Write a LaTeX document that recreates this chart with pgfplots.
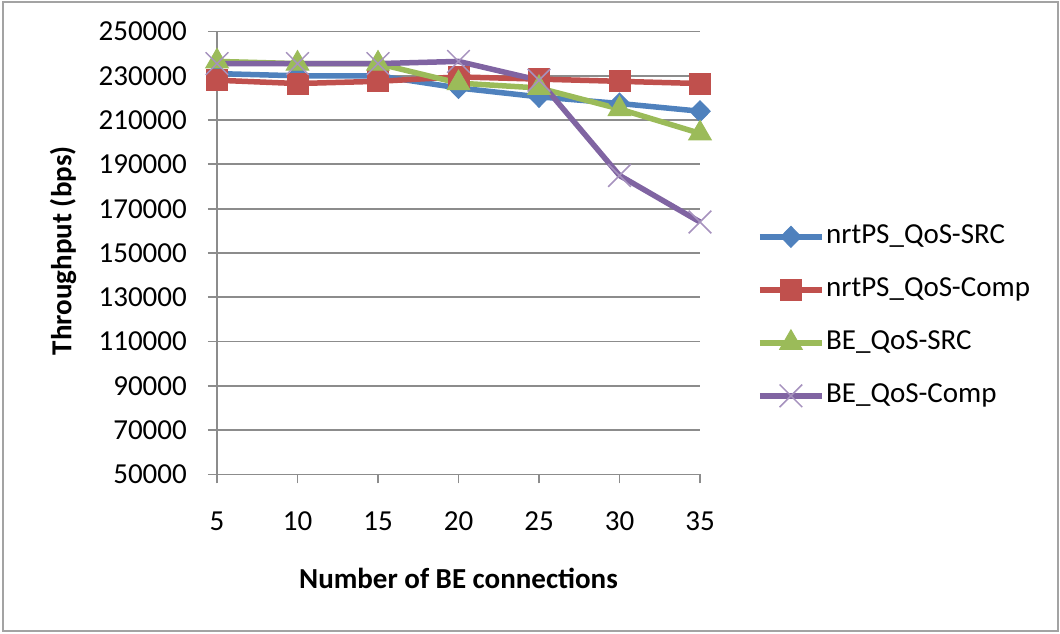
\documentclass[border=0pt]{standalone}
\usepackage{fontspec}
\setmainfont{Carlito}
\usepackage{pgfplots}
\pgfplotsset{compat=1.18}
\definecolor{cblue}{HTML}{4F81BD}
\definecolor{cred}{HTML}{C0504D}
\definecolor{cgreen}{HTML}{9BBB59}
\definecolor{cpurple}{HTML}{8064A2}
\definecolor{cgrid}{HTML}{8C8C8C}
\begin{document}
\begin{tikzpicture}
\path[use as bounding box] (0pt,0pt) rectangle (1060pt,634pt);
\draw[color=cgrid!80, line width=2pt] (3pt,3pt) rectangle (1058pt,632pt);
\begin{axis}[
  at={(217pt,159.5pt)}, anchor=south west,
  scale only axis, width=483pt, height=443pt,
  xmin=5, xmax=35, ymin=50000, ymax=250000,
  xtick={5,10,15,20,25,30,35},
  ytick={50000,70000,...,250000},
  scaled y ticks=false,
  /pgf/number format/assume math mode=true,
  /pgf/number format/1000 sep={},
  /pgf/number format/fixed,
  font=\fontsize{29}{34}\selectfont,
  axis x line=bottom, axis y line=left,
  axis line style={cgrid, line width=1.8pt, -},
  tick align=outside,
  major tick length=9pt,
  tick style={cgrid, line width=1.8pt},
  ymajorgrids, grid style={cgrid, line width=1.8pt},
  xticklabel style={anchor=center, inner sep=0pt, yshift=-38pt},
  yticklabel style={anchor=east, inner sep=0pt, xshift=-21pt},
  xlabel={\bfseries Number of BE connections},
  ylabel={\bfseries Throughput (bps)},
  xlabel style={at={(axis description cs:0.5,0)}, anchor=center, yshift=-103.5pt},
  ylabel style={at={(axis description cs:-0.3188,0.505)}, anchor=center, rotate=0},
  legend cell align=left,
  legend image code/.code={\draw[mark repeat=2,mark phase=2,#1] plot coordinates {(0pt,0pt) (31pt,0pt) (62pt,0pt)};},
  legend style={at={(axis description cs:1.118,0.357)}, anchor=west, draw=none, fill=none,
    inner sep=0pt, row sep=24pt,
    nodes={inner sep=1.5pt, text height=20pt, text depth=6pt},
    font=\fontsize{29}{34}\selectfont},
  every axis plot/.append style={line width=5.5pt},
  clip=false,
]
\addplot[color=cblue, mark=diamond*, mark size=10.5pt, mark options={xscale=1.3, line width=1pt}]
 coordinates {(5,231000) (10,230000) (15,230000) (20,224500) (25,220500) (30,217500) (35,214000)};
\addlegendentry{nrtPS\_QoS-SRC}
\addplot[color=cred, mark=square*, mark size=10.5pt, mark options={line width=1pt}]
 coordinates {(5,228000) (10,226500) (15,227500) (20,229500) (25,228500) (30,227500) (35,226500)};
\addlegendentry{nrtPS\_QoS-Comp}
\addplot[color=cgreen, mark=triangle*, mark size=13pt, mark options={line width=1pt}]
 coordinates {(5,236500) (10,235500) (15,235500) (20,226700) (25,224500) (30,215000) (35,204000)};
\addlegendentry{BE\_QoS-SRC}
\addplot[color=cpurple, mark=x, mark size=16pt, mark options={line width=1.5pt, color=cpurple!70}]
 coordinates {(5,235500) (10,235500) (15,235500) (20,236500) (25,228000) (30,185000) (35,164000)};
\addlegendentry{BE\_QoS-Comp}
\end{axis}
\end{tikzpicture}
\end{document}
